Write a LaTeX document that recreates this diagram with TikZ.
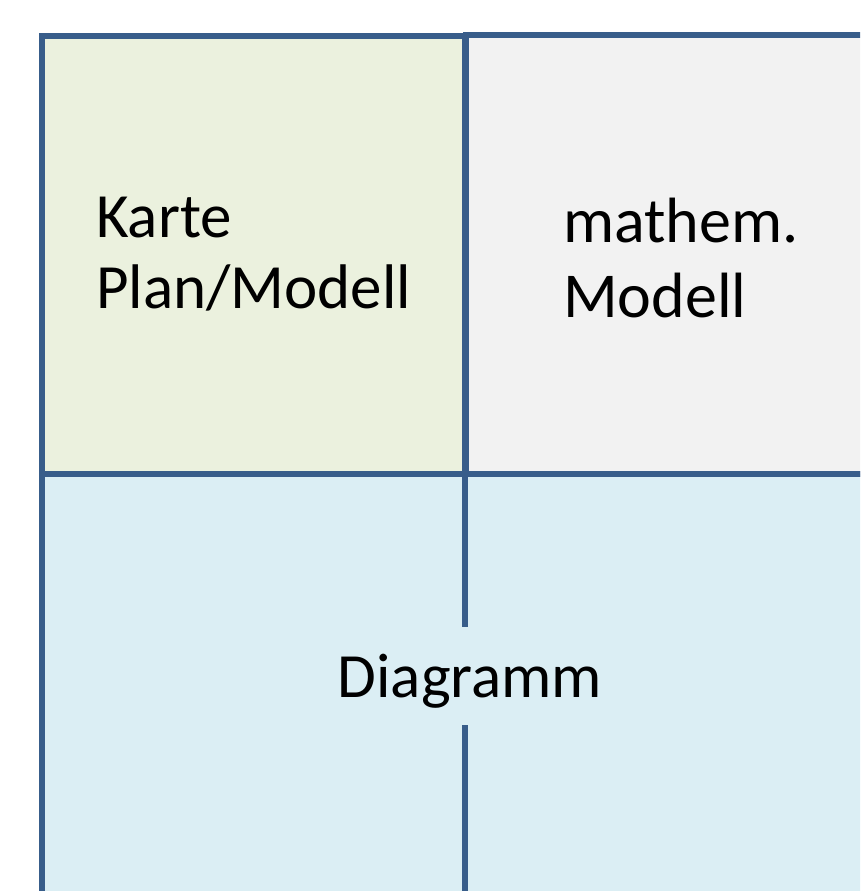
\documentclass[tikz,border=0pt]{standalone}
\usepackage{fontspec}
\setmainfont{Carlito}
\definecolor{edge}{HTML}{385D8A}
\definecolor{olivefill}{HTML}{EBF1DE}
\definecolor{greyfill}{HTML}{F2F2F2}
\definecolor{aquafill}{HTML}{DBEEF4}
\tikzset{
  panel/.style={draw=edge, line width=6.5pt, rectangle, anchor=north west, inner sep=0pt, outer sep=0pt},
  label/.style={inner sep=0pt, align=left, font=\fontsize{63}{71}\selectfont},
}
\begin{document}
\begin{tikzpicture}[x=1pt,y=1pt]
\useasboundingbox (0,0) rectangle (860,-891);
\begin{scope}
\clip (0,0) rectangle (860,-891);
\node[panel, fill=aquafill, minimum width=900pt, minimum height=500pt] (diag) at (42,-474) {};
\node[panel, fill=olivefill, minimum width=423pt, minimum height=438pt] (karte) at (42,-36) {};
\node[panel, fill=greyfill, minimum width=500pt, minimum height=439pt] (mathem) at (466,-35) {};
\coordinate (midtop) at (465,-474);
\coordinate (gaptop) at (465,-627);
\coordinate (gapbot) at (465,-725);
\coordinate (midbot) at (465,-900);
\draw[edge, line width=6.5pt] (midtop) -- (gaptop);
\draw[edge, line width=6.5pt] (gapbot) -- (midbot);
\end{scope}
\node[label, anchor=base west] (t1) at (96,-308) {Karte\\Plan/Modell};
\node[label, anchor=base west, font=\fontsize{64}{75}\selectfont] (t2) at (563,-317) {mathem.\\Modell};
\node[label, anchor=base] (t3) at (470,-697) {Diagramm};
\end{tikzpicture}
\end{document}
